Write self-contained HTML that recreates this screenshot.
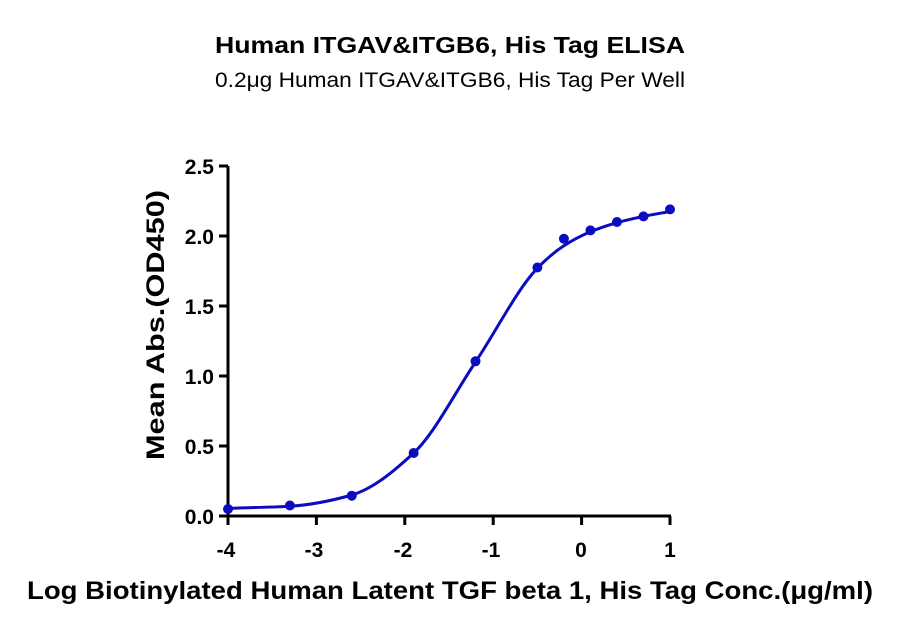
<!DOCTYPE html>
<html><head><meta charset="utf-8"><style>
body{margin:0;background:#fff;}
svg text{font-family:"Liberation Sans","DejaVu Sans",sans-serif;}
</style></head><body>
<svg id="s" width="900" height="631" xmlns="http://www.w3.org/2000/svg">
<text x="450" y="53" text-anchor="middle" font-size="23" font-weight="bold" textLength="470" lengthAdjust="spacingAndGlyphs">Human ITGAV&amp;ITGB6, His Tag ELISA</text>
<text x="450" y="87" text-anchor="middle" font-size="21" textLength="470" lengthAdjust="spacingAndGlyphs">0.2μg Human ITGAV&amp;ITGB6, His Tag Per Well</text>
<g stroke="#000" stroke-width="3" fill="none">
<line x1="228" y1="166" x2="228" y2="517"/>
<line x1="226.5" y1="516" x2="671" y2="516"/>
<line x1="219" y1="166" x2="228" y2="166"/>
<line x1="219" y1="236" x2="228" y2="236"/>
<line x1="219" y1="306" x2="228" y2="306"/>
<line x1="219" y1="376" x2="228" y2="376"/>
<line x1="219" y1="446" x2="228" y2="446"/>
<line x1="219" y1="516" x2="228" y2="516"/>
<line x1="228" y1="516" x2="228" y2="525"/>
<line x1="316.4" y1="516" x2="316.4" y2="525"/>
<line x1="404.8" y1="516" x2="404.8" y2="525"/>
<line x1="493.2" y1="516" x2="493.2" y2="525"/>
<line x1="581.6" y1="516" x2="581.6" y2="525"/>
<line x1="670" y1="516" x2="670" y2="525"/>
</g>
<g font-size="21" font-weight="bold" text-anchor="end">
<text x="214" y="174">2.5</text><text x="214" y="244">2.0</text><text x="214" y="314">1.5</text>
<text x="214" y="384">1.0</text><text x="214" y="454">0.5</text><text x="214" y="524">0.0</text>
</g>
<g font-size="21" font-weight="bold" text-anchor="middle">
<text x="226" y="557">-4</text><text x="314" y="557">-3</text><text x="403" y="557">-2</text>
<text x="491" y="557">-1</text><text x="581" y="557">0</text><text x="670" y="557">1</text>
</g>
<text x="450" y="599" text-anchor="middle" font-size="25" font-weight="bold" textLength="846" lengthAdjust="spacingAndGlyphs">Log Biotinylated Human Latent TGF beta 1, His Tag Conc.(μg/ml)</text>
<text transform="translate(164,325) rotate(-90)" text-anchor="middle" font-size="25" font-weight="bold" textLength="270" lengthAdjust="spacingAndGlyphs">Mean Abs.(OD450)</text>
<path id="c" fill="none" stroke="#0b0bbf" stroke-width="3"/>
<g id="p" fill="#0b0bbf"></g>
</svg>
<script>
var d=[[-4,0.05],[-3.3,0.075],[-2.6,0.145],[-1.9,0.45],[-1.2,1.105],[-0.5,1.775],[-0.2,1.98],[0.1,2.04],[0.4,2.1],[0.7,2.14],[1,2.19]];
/* smoothed curve control values (fit-like) */
var c=[[-4,0.055],[-3.3,0.07],[-2.6,0.15],[-1.9,0.45],[-1.2,1.1],[-0.5,1.77],[-0.2,1.93],[0.1,2.03],[0.4,2.095],[0.7,2.14],[1,2.175]];
function X(v){return 228+(v+4)*88.4}function Y(v){return 516-v*140}
var g=document.getElementById('p'),s='';
d.forEach(function(a){s+='<circle cx="'+X(a[0])+'" cy="'+Y(a[1])+'" r="5"/>'});g.innerHTML=s;
var n=c.length,h=[],del=[],m=[];
for(var i=0;i<n-1;i++){h[i]=c[i+1][0]-c[i][0];del[i]=(c[i+1][1]-c[i][1])/h[i];}
m[0]=del[0];m[n-1]=del[n-2];
for(i=1;i<n-1;i++){if(del[i-1]*del[i]<=0)m[i]=0;else{var w1=2*h[i]+h[i-1],w2=h[i]+2*h[i-1];m[i]=(w1+w2)/(w1/del[i-1]+w2/del[i]);}}
var path='M'+X(c[0][0])+' '+Y(c[0][1]);
for(i=0;i<n-1;i++){var x0=c[i][0],x1=c[i+1][0],y0=c[i][1],y1=c[i+1][1];
path+=' C'+X(x0+h[i]/3).toFixed(2)+' '+Y(y0+m[i]*h[i]/3).toFixed(2)+' '+X(x1-h[i]/3).toFixed(2)+' '+Y(y1-m[i+1]*h[i]/3).toFixed(2)+' '+X(x1).toFixed(2)+' '+Y(y1).toFixed(2);}
document.getElementById('c').setAttribute('d',path);
</script>
</body></html>
